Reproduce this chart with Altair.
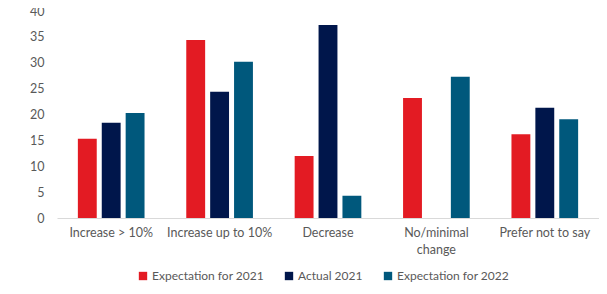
import altair as alt
import pandas as pd

categories = ["Increase > 10%", "Increase up to 10%", "Decrease", "No/minimal\nchange", "Prefer not to say"]
series = ["Expectation for 2021", "Actual 2021", "Expectation for 2022"]
exp2021 = [15.3, 34.4, 12.0, 23.2, 16.2]
act2021 = [18.4, 24.4, 37.3, None, 21.3]
exp2022 = [20.3, 30.2, 4.3, 27.3, 19.1]
colors = ["#E31B23", "#00164B", "#00587C"]

rows = []
for i, c in enumerate(categories):
    for s, vals in zip(series, [exp2021, act2021, exp2022]):
        rows.append({"cat": c, "series": s, "value": vals[i]})
df = pd.DataFrame(rows)

FONT = "Lato"
TXT = "#595959"

chart = alt.Chart(df).mark_bar().encode(
    x=alt.X("cat:N", sort=categories, title=None,
            scale=alt.Scale(paddingInner=0.385, paddingOuter=0.1925),
            axis=alt.Axis(labelAngle=0, ticks=False, domainColor="#d9d9d9", domainWidth=1,
                          labelPadding=8, labelFontSize=12.5, labelColor=TXT, labelFont=FONT,
                          labelExpr="split(datum.label, '\\n')", labelLineHeight=17)),
    xOffset=alt.XOffset("series:N", sort=series, scale=alt.Scale(paddingInner=0.21, paddingOuter=0)),
    y=alt.Y("value:Q", title=None, scale=alt.Scale(domain=[0, 40], nice=False),
            axis=alt.Axis(values=[0, 5, 10, 15, 20, 25, 30, 35, 40], grid=False, ticks=False, domain=False,
                          labelPadding=13, labelFontSize=12.5, labelColor=TXT, labelFont=FONT)),
    color=alt.Color("series:N", sort=series, scale=alt.Scale(domain=series, range=colors),
                    legend=alt.Legend(title=None, orient="none", direction="horizontal",
                                      legendX=80, legendY=259, symbolType="square", symbolSize=70,
                                      symbolStrokeWidth=0, labelFontSize=12, labelColor=TXT,
                                      labelFont=FONT, labelOffset=3, columnPadding=19)),
).properties(
    width=542, height=207,
    autosize=alt.AutoSizeParams(type="none"),
    padding={"left": 49, "top": 3, "right": 0, "bottom": 68},
).configure_view(stroke=None)

chart.save("out.html", embed_options={"renderer": "svg", "actions": False})
